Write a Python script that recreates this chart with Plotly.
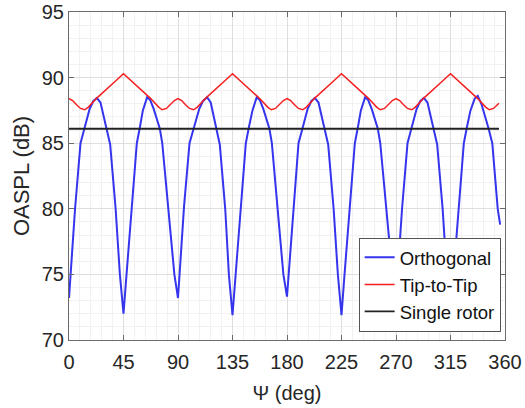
import plotly.graph_objects as go

# ---- data ----
orth_psi = [0, 1.5, 5, 9.5, 13, 17, 20, 23, 26, 29, 31, 34, 38.5, 42,
            45, 47.5, 52, 56, 58.5, 61, 64.5, 67, 70, 73, 75, 77, 82, 87,
            90, 91.5, 95, 99.5, 103, 107.5, 110.5, 114, 117, 119.5, 121.5, 124.5, 129, 132,
            135, 137.5, 142, 146, 148.5, 151.5, 155, 157.5, 160.5, 163.5, 165.5, 167.5, 172, 177,
            180, 181.5, 185, 189.5, 193, 197, 200, 203, 206, 209, 211, 214, 218.5, 222,
            225, 227.5, 232, 236, 238.5, 241, 244.5, 247, 250, 253, 255, 257, 262, 267,
            270, 271.5, 275, 279.5, 283, 287, 290, 293, 296, 299, 301, 304, 308.5, 312,
            315, 317.5, 322, 326, 328.5, 331.5, 335, 337.5, 340.5, 344, 346.5, 349.5, 354, 356]
orth_db = [73.2, 75.2, 80.0, 85.0, 86.2, 87.6, 88.2, 88.45, 88.1, 87.0, 86.1, 84.9, 80.0, 75.0,
           72.0, 75.0, 80.0, 85.0, 86.2, 87.5, 88.5, 88.3, 87.6, 86.8, 86.1, 85.0, 80.0, 75.0,
           73.2, 75.3, 80.2, 85.0, 86.2, 87.6, 88.2, 88.5, 88.1, 87.0, 86.1, 84.9, 80.0, 75.0,
           71.9, 75.0, 80.0, 85.0, 86.2, 87.5, 88.5, 88.3, 87.6, 86.8, 86.1, 85.0, 80.0, 75.0,
           73.3, 75.2, 80.0, 85.0, 86.2, 87.6, 88.2, 88.45, 88.1, 87.0, 86.1, 84.9, 80.0, 75.0,
           71.9, 75.0, 80.0, 85.0, 86.2, 87.5, 88.5, 88.3, 87.6, 86.8, 86.1, 85.0, 80.0, 75.0,
           73.2, 75.2, 80.0, 85.0, 86.2, 87.6, 88.2, 88.45, 88.1, 87.0, 86.1, 84.9, 80.0, 75.0,
           72.0, 75.0, 80.0, 85.0, 86.2, 87.5, 88.4, 88.6, 88.0, 87.0, 86.1, 85.0, 80.0, 78.8]

tip_psi = [0, 3, 6, 9.5, 13, 16, 22.5, 30, 38, 45, 52, 60, 67.5, 74, 77, 80.5, 84, 87,
           90, 93, 96, 99.5, 103, 106, 112.5, 120, 128, 135, 142, 150, 157.5, 164, 167, 170.5, 174, 177,
           180, 183, 186, 189.5, 193, 196, 202.5, 210, 218, 225, 232, 240, 247.5, 254, 257, 260.5, 264, 267,
           270, 273, 276, 279.5, 283, 286, 292.5, 300, 308, 315, 322, 330, 337.5, 344, 347, 350.5, 355]
tip_db = [88.4, 88.25, 87.95, 87.65, 87.55, 87.75, 88.4, 89.0, 89.7, 90.3, 89.7, 89.0, 88.4, 87.75, 87.55, 87.65, 87.95, 88.25,
          88.4, 88.25, 87.95, 87.65, 87.55, 87.75, 88.4, 89.0, 89.7, 90.3, 89.7, 89.0, 88.4, 87.75, 87.55, 87.65, 87.95, 88.25,
          88.4, 88.25, 87.95, 87.65, 87.55, 87.75, 88.4, 89.0, 89.7, 90.3, 89.7, 89.0, 88.4, 87.75, 87.55, 87.65, 87.95, 88.25,
          88.4, 88.25, 87.95, 87.65, 87.55, 87.75, 88.4, 89.0, 89.7, 90.3, 89.7, 89.0, 88.4, 87.75, 87.55, 87.65, 88.05]

single_psi = [0, 355]
single_db = [86.1, 86.1]

x_ticks = [0, 45, 90, 135, 180, 225, 270, 315, 360]
y_ticks = [70, 75, 80, 85, 90, 95]

FONT = "Arial, Liberation Sans, sans-serif"
TXT = "#262626"
AX = "#6b6b6b"

fig = go.Figure()
fig.add_trace(go.Scatter(x=orth_psi, y=orth_db, mode="lines", name="Orthogonal",
                         line=dict(color="#3535ee", width=2)))
fig.add_trace(go.Scatter(x=tip_psi, y=tip_db, mode="lines", name="Tip-to-Tip",
                         line=dict(color="#f51e1e", width=1.5)))
fig.add_trace(go.Scatter(x=single_psi, y=single_db, mode="lines", name="Single rotor",
                         line=dict(color="#222222", width=1.8)))

axis_common = dict(showline=True, linecolor=AX, linewidth=1, mirror="allticks",
                   ticks="inside", ticklen=5, tickcolor=AX, showgrid=True,
                   gridcolor="#dedede", gridwidth=1, zeroline=False,
                   tickfont=dict(family=FONT, size=20, color=TXT))

fig.update_xaxes(range=[0, 360], tickvals=x_ticks, ticktext=[str(v) for v in x_ticks],
                 minor=dict(dtick=9, tick0=0, showgrid=True, gridcolor="#f1f1f1", ticks=""),
                 title=dict(text="Ψ (deg)", font=dict(family=FONT, size=20, color=TXT), standoff=13),
                 ticklabelstandoff=4,
                 **axis_common)
fig.update_yaxes(range=[70, 95], tickvals=y_ticks, ticktext=[str(v) for v in y_ticks],
                 minor=dict(dtick=1, tick0=70, showgrid=True, gridcolor="#f1f1f1", ticks=""),
                 title=dict(text="OASPL (dB)", font=dict(family=FONT, size=22, color=TXT), standoff=6),
                 **axis_common)

fig.update_layout(
    width=525, height=408,
    margin=dict(l=69, r=20, t=12, b=68, autoexpand=False),
    paper_bgcolor="white", plot_bgcolor="white",
    showlegend=True,
    legend=dict(x=0.99, y=0.025, xanchor="right", yanchor="bottom",
                bgcolor="white", bordercolor="#555555", borderwidth=1,
                font=dict(family=FONT, size=18.5, color="#111111"),
                tracegroupgap=0, itemwidth=30),
)

fig.write_html("out.html")
